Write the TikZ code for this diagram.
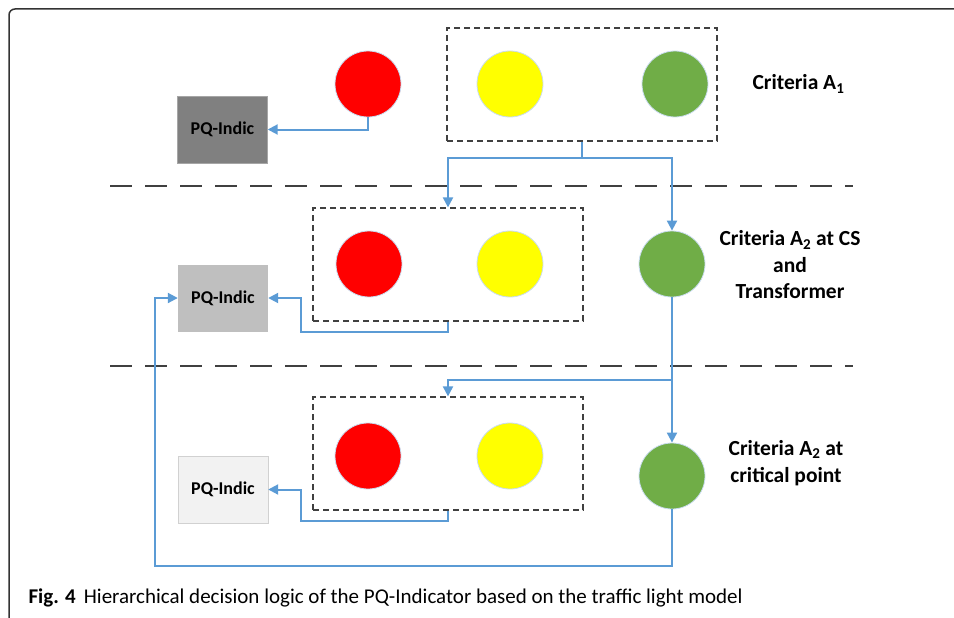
\documentclass[tikz,border=0pt]{standalone}
\usepackage{fontspec}
\setmainfont{Carlito}
\usepackage{tikz}
\usetikzlibrary{arrows.meta}

\definecolor{lampred}{HTML}{FF0000}
\definecolor{lampyellow}{HTML}{FFFF00}
\definecolor{lampgreen}{HTML}{70AD47}
\definecolor{flowblue}{HTML}{5B9BD5}
\definecolor{rimblue}{HTML}{C9DCEF}
\definecolor{boxgray}{HTML}{404040}

\begin{document}
\begin{tikzpicture}[x=1pt,y=-1pt,>={Triangle[length=10pt,width=10pt]},
  lamp/.style={circle,minimum size=66pt,inner sep=0pt,draw=rimblue,line width=0.8pt},
  group/.style={draw=boxgray,line width=1.2pt,dash pattern=on 6pt off 4pt,minimum width=270pt,minimum height=113pt,inner sep=0pt},
  pqbox/.style={minimum width=90pt,minimum height=67pt,inner sep=0pt,font=\fontsize{18}{21}\selectfont\bfseries},
  crit/.style={align=center,font=\fontsize{21.5}{26.5}\selectfont\bfseries},
  flow/.style={draw=flowblue,line width=2pt},
  sep/.style={draw=boxgray,line width=2pt,dash pattern=on 22pt off 13pt}]
  \useasboundingbox (0,0) rectangle (954,618);
  \draw[line width=1.5pt,draw=black!80,rounded corners=6pt] (9,640) |- (980,9);

  % level 1
  \node[group] (g1) at (582,84.5) {};
  \node[lamp,fill=lampred] (r1) at (368,84) {};
  \node[lamp,fill=lampyellow] (y1) at (510,84) {};
  \node[lamp,fill=lampgreen] (gr1) at (675,84) {};
  \node[pqbox,fill=black!50,draw=black!35] (pq1) at (222.5,129.5) {PQ-Indic};
  \node[crit,anchor=west] (c1) at (749,84) {Criteria A\textsubscript{1}};

  \draw[sep] (110,186) -- (853,186);

  % level 2
  \node[group] (g2) at (448,264.5) {};
  \node[lamp,fill=lampred] (r2) at (369,264) {};
  \node[lamp,fill=lampyellow] (y2) at (510,264) {};
  \node[lamp,fill=lampgreen] (gr2) at (672,264) {};
  \node[pqbox,fill=black!25] (pq2) at (223,298) {PQ-Indic};
  \node[crit] (c2) at (790,265) {Criteria A\textsubscript{2} at CS\\and\\Transformer};

  \draw[sep] (110,366) -- (853,366);

  % level 3
  \node[group] (g3) at (448,453.5) {};
  \node[lamp,fill=lampred] (r3) at (368,456) {};
  \node[lamp,fill=lampyellow] (y3) at (510,456) {};
  \node[lamp,fill=lampgreen] (gr3) at (672,476) {};
  \node[pqbox,fill=black!5,draw=black!18] (pq3) at (223,489.5) {PQ-Indic};
  \node[crit] (c3) at (786,463) {Criteria A\textsubscript{2} at\\critical point};

  % decision flow
  \draw[flow,->] (r1.south) |- (pq1.east);
  \draw[flow] (g1.south) -- ++(0,16) coordinate (j1);
  \draw[flow,->] (j1) -| (g2.north);
  \draw[flow,->] (j1) -| (gr2.north);
  \draw[flow,->] (g2.south) |- (301,332) |- (pq2.east);
  \draw[flow,->] (gr2.south) -- (gr3.north);
  \coordinate (j2) at (gr2.south |- 0,380);
  \draw[flow,->] (j2) -| (g3.north);
  \draw[flow,->] (g3.south) |- (301,521) |- (pq3.east);
  \draw[flow,->] (gr3.south) |- (155,566) |- (pq2.west);

  \node[anchor=base west,font=\fontsize{21}{24}\selectfont] (cap) at (25,603)
    {\textbf{Fig. 4}\hspace{8pt}Hierarchical decision logic of the PQ-Indicator based on the traffic light model};
\end{tikzpicture}
\end{document}
